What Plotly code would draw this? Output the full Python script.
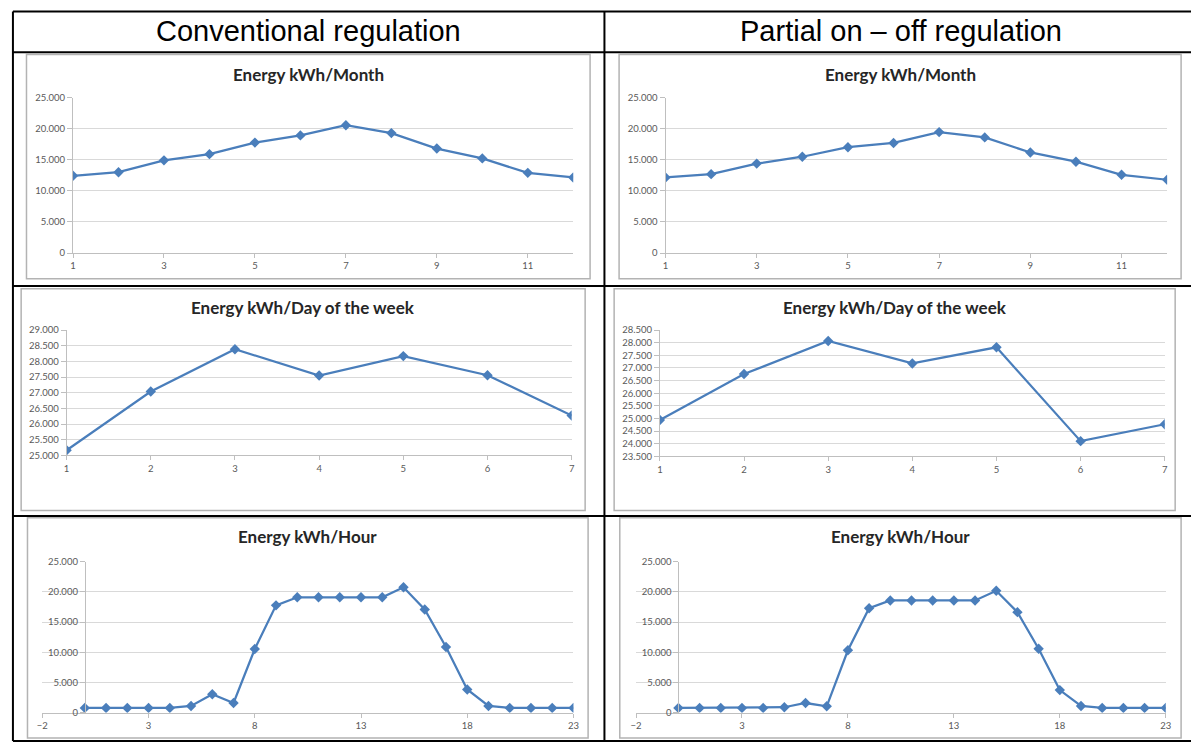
import plotly.graph_objects as go

W, H = 1197, 747

# ---- data ----
months = list(range(1, 13))
month_conv = [12450, 13030, 14940, 15940, 17800, 18960, 20600, 19330, 16840, 15250, 12920, 12180]
month_part = [12180, 12710, 14410, 15520, 17060, 17740, 19490, 18640, 16210, 14720, 12610, 11810]

days = list(range(1, 8))
day_conv = [25160, 27040, 28390, 27550, 28170, 27560, 26270]
day_part = [24940, 26760, 28070, 27180, 27820, 24100, 24770]

hours = list(range(0, 24))
hour_conv = [800, 800, 800, 800, 800, 1120, 3050, 1610, 10550, 17770, 19110, 19110,
             19110, 19110, 19110, 20770, 17080, 10870, 3850, 1120, 800, 800, 800, 800]
hour_part = [800, 800, 800, 800, 800, 910, 1610, 1070, 10330, 17290, 18580, 18580,
             18580, 18580, 18580, 20180, 16650, 10600, 3750, 1120, 800, 800, 800, 800]

column_titles = ["Conventional regulation", "Partial on – off regulation"]
chart_titles = ["Energy kWh/Month", "Energy kWh/Day of the week", "Energy kWh/Hour"]

# ---- styling ----
LINE_BLUE = "#4A7EBB"
GRID = "#D9D9D9"
AXIS = "#BFBFBF"
TICK_FONT = dict(family="Lato, Calibri, sans-serif", size=9.5, color="#595959")
TITLE_FONT = dict(family="Lato, Calibri, sans-serif", size=17, color="#262626")
HEAD_FONT = dict(family="Liberation Sans, Arial, sans-serif", size=29, color="#000000")


def fx(p):
    return p / W


def fy(p):
    return 1 - p / H


# panel geometry in pixels: plot box (left, right, top, bottom), frame box, title y
panels = [
    dict(x=months, y=month_conv, plot=(67.7, 573.0, 93.3, 250.7), frame=(20.7, 590, 49.3, 276.7),
         title_y=70, title=chart_titles[0], xr=[1, 12], xt=(1, 2), yr=[0, 25000], yt=5000, free=False),
    dict(x=months, y=month_part, plot=(666.2, 1172.9, 93.3, 250.7), frame=(619.3, 1187, 49.3, 276.7),
         title_y=70, title=chart_titles[0], xr=[1, 12], xt=(1, 2), yr=[0, 25000], yt=5000, free=False),
    dict(x=days, y=day_conv, plot=(61.2, 571.4, 329, 456), frame=(15.3, 585, 287, 512),
         title_y=306, title=chart_titles[1], xr=[1, 7], xt=(1, 1), yr=[25000, 29000], yt=500, free=False),
    dict(x=days, y=day_part, plot=(660.5, 1170.5, 329, 457), frame=(614.3, 1181, 287, 512),
         title_y=306, title=chart_titles[1], xr=[1, 7], xt=(1, 1), yr=[23500, 28500], yt=500, free=False),
    dict(x=hours, y=hour_conv, plot=(36.7, 573.2, 564.0, 717.3), frame=(21.7, 588, 519.5, 743),
         title_y=538, title=chart_titles[2], xr=[-2, 23], xt=(-2, 5), yr=[0, 25000], yt=5000, free=True),
    dict(x=hours, y=hour_part, plot=(636.4, 1171.5, 564.0, 717.3), frame=(620, 1187, 519.5, 743),
         title_y=538, title=chart_titles[2], xr=[-2, 23], xt=(-2, 5), yr=[0, 25000], yt=5000, free=True),
]

fig = go.Figure()
shapes = []
annotations = []
layout_axes = {}

for i, p in enumerate(panels, start=1):
    xa = "x" if i == 1 else f"x{i}"
    ya = "y" if i == 1 else f"y{i}"
    xkey = "xaxis" if i == 1 else f"xaxis{i}"
    ykey = "yaxis" if i == 1 else f"yaxis{i}"
    l, r, t, b = p["plot"]
    xdom = [fx(l), fx(r)]
    ydom = [fy(b), fy(t)]

    fig.add_trace(go.Scatter(
        x=p["x"], y=p["y"], xaxis=xa, yaxis=ya, mode="lines+markers",
        line=dict(color=LINE_BLUE, width=2.25),
        marker=dict(symbol="diamond", size=8, color=LINE_BLUE),
        showlegend=False, hoverinfo="x+y",
    ))

    layout_axes[xkey] = dict(
        domain=xdom, range=p["xr"], anchor=ya, tick0=p["xt"][0], dtick=p["xt"][1],
        showgrid=False, zeroline=False, showline=True, linecolor=AXIS, linewidth=1,
        ticks="outside", ticklen=4, tickcolor=AXIS, tickfont=TICK_FONT, fixedrange=True,
    )
    yax = dict(
        domain=ydom, range=p["yr"], dtick=p["yt"], tick0=p["yr"][0], tickformat=",.0f",
        showgrid=True, gridcolor=GRID, gridwidth=1, zeroline=False,
        showline=True, linecolor=AXIS, linewidth=1,
        ticks="outside", ticklen=5, tickcolor=AXIS, tickfont=TICK_FONT, fixedrange=True,
    )
    if p["free"]:
        # value axis crosses the category axis at x = 0
        x0, x1 = p["xr"]
        pos = xdom[0] + (0 - x0) / (x1 - x0) * (xdom[1] - xdom[0])
        yax.update(anchor="free", position=pos, overlaying=None)
    else:
        yax.update(anchor=xa)
    layout_axes[ykey] = yax

    # chart area border
    fl, fr, ft, fb = p["frame"]
    shapes.append(dict(type="rect", xref="paper", yref="paper",
                       x0=fx(fl), x1=fx(fr), y0=fy(fb), y1=fy(ft),
                       line=dict(color="#B3B3B3", width=1.5), layer="below"))
    annotations.append(dict(text=f"<b>{p['title']}</b>", xref="paper", yref="paper",
                            x=fx((fl + fr) / 2), y=fy(p["title_y"]), showarrow=False,
                            xanchor="center", yanchor="middle", font=TITLE_FONT))

# table grid lines
TABLE = dict(color="#000000", width=2)
for yy in (5.5, 47, 284.3, 517.7, 746):
    shapes.append(dict(type="line", xref="paper", yref="paper",
                       x0=fx(7), x1=1, y0=fy(yy), y1=fy(yy), line=TABLE))
for xx in (7, 604.5):
    shapes.append(dict(type="line", xref="paper", yref="paper",
                       x0=fx(xx), x1=fx(xx), y0=fy(5.5), y1=fy(746), line=TABLE))

# column headings
for cx, txt in zip((306, 904.5), column_titles):
    annotations.append(dict(text=txt, xref="paper", yref="paper", x=fx(cx), y=fy(25),
                            showarrow=False, xanchor="center", yanchor="middle", font=HEAD_FONT))

fig.update_layout(
    width=W, height=H, margin=dict(l=0, r=0, t=0, b=0),
    paper_bgcolor="white", plot_bgcolor="white",
    separators=",.", shapes=shapes, annotations=annotations,
    **layout_axes,
)

fig.write_html("out.html", config=dict(displayModeBar=False))
